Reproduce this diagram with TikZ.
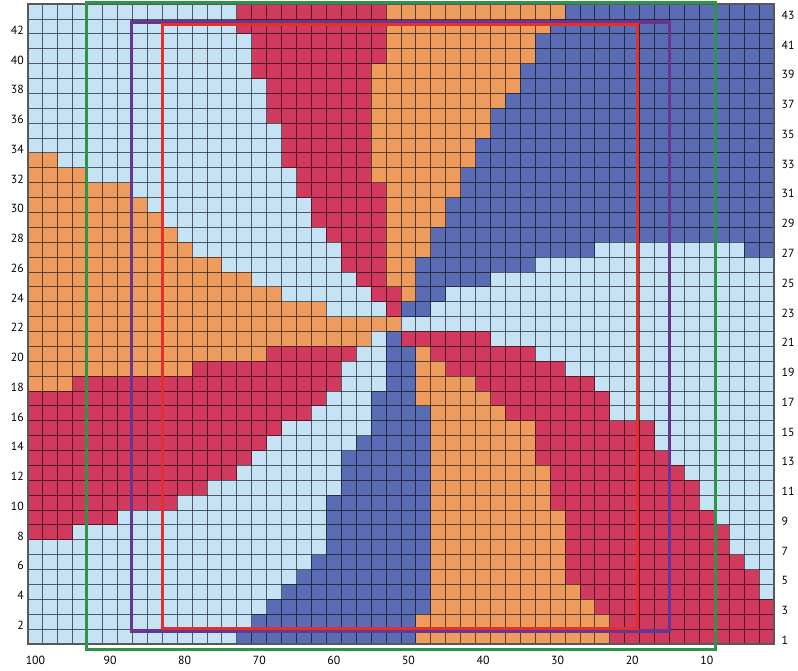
\documentclass[tikz,border=0pt]{standalone}
\usepackage{fontspec}
\setmainfont{PT Sans}
\usepackage{tikz}

\definecolor{paleblue}{HTML}{C6E3F5}
\definecolor{rosered}{HTML}{D13A5E}
\definecolor{peach}{HTML}{EE9B5E}
\definecolor{slateblue}{HTML}{5A6CB3}
\definecolor{bandgreen}{HTML}{2E9447}
\definecolor{bandpurple}{HTML}{673592}
\definecolor{bandred}{HTML}{E4302C}

\begin{document}
\begin{tikzpicture}[x=0.4cm, y=0.3989cm,
	every node/.style={font=\fontsize{9}{10}\selectfont, inner sep=0pt},
	gridline/.style={draw=black, draw opacity=0.6, line width=0.7pt},
	band/.style={line width=2.4pt}]
	\useasboundingbox (-1.877,-1.815) rectangle (51.61,43.28);
	\fill[paleblue] (0,0) rectangle (50,43);
	% row/first stitch/last stitch/colour (pale blue is the ground)
	\foreach \r/\a/\b/\c in {
		43/15/24/rosered, 43/25/36/peach, 43/37/50/slateblue,
		42/15/24/rosered, 42/25/35/peach, 42/36/50/slateblue,
		41/16/24/rosered, 41/25/34/peach, 41/35/50/slateblue,
		40/16/24/rosered, 40/25/34/peach, 40/35/50/slateblue,
		39/16/23/rosered, 39/24/33/peach, 39/34/50/slateblue,
		38/17/23/rosered, 38/24/33/peach, 38/34/50/slateblue,
		37/17/23/rosered, 37/24/32/peach, 37/33/50/slateblue,
		36/17/23/rosered, 36/24/31/peach, 36/32/50/slateblue,
		35/18/23/rosered, 35/24/31/peach, 35/32/50/slateblue,
		34/18/23/rosered, 34/24/30/peach, 34/31/50/slateblue,
		33/1/2/peach, 33/18/23/rosered, 33/24/30/peach, 33/31/50/slateblue,
		32/1/4/peach, 32/19/23/rosered, 32/24/29/peach, 32/30/50/slateblue,
		31/1/7/peach, 31/19/24/rosered, 31/25/29/peach, 31/30/50/slateblue,
		30/1/8/peach, 30/20/24/rosered, 30/25/28/peach, 30/29/50/slateblue,
		29/1/9/peach, 29/20/24/rosered, 29/25/28/peach, 29/29/50/slateblue,
		28/1/10/peach, 28/21/24/rosered, 28/25/27/peach, 28/28/50/slateblue,
		27/1/11/peach, 27/22/24/rosered, 27/25/27/peach, 27/28/38/slateblue, 27/49/50/slateblue,
		26/1/13/peach, 26/22/24/rosered, 26/25/26/peach, 26/27/34/slateblue,
		25/1/15/peach, 25/23/24/rosered, 25/25/26/peach, 25/27/31/slateblue,
		24/1/17/peach, 24/24/25/rosered, 24/26/26/peach, 24/27/28/slateblue,
		23/1/20/peach, 23/25/25/rosered, 23/26/27/slateblue,
		22/1/25/peach,
		21/1/23/peach, 21/25/25/slateblue, 21/26/31/rosered,
		20/1/16/peach, 20/17/22/rosered, 20/25/26/slateblue, 20/27/27/peach, 20/28/34/rosered,
		19/1/11/peach, 19/12/21/rosered, 19/25/26/slateblue, 19/27/28/peach, 19/29/36/rosered,
		18/1/3/peach, 18/4/21/rosered, 18/25/26/slateblue, 18/27/30/peach, 18/31/38/rosered,
		17/1/20/rosered, 17/24/26/slateblue, 17/27/31/peach, 17/32/39/rosered,
		16/1/19/rosered, 16/24/27/slateblue, 16/28/32/peach, 16/33/39/rosered,
		15/1/17/rosered, 15/24/27/slateblue, 15/28/34/peach, 15/35/42/rosered,
		14/1/16/rosered, 14/23/27/slateblue, 14/28/34/peach, 14/35/42/rosered,
		13/1/15/rosered, 13/22/27/slateblue, 13/28/34/peach, 13/35/43/rosered,
		12/1/14/rosered, 12/22/27/slateblue, 12/28/35/peach, 12/36/44/rosered,
		11/1/12/rosered, 11/22/27/slateblue, 11/28/35/peach, 11/36/45/rosered,
		10/1/10/rosered, 10/21/27/slateblue, 10/28/35/peach, 10/36/45/rosered,
		9/1/6/rosered, 9/21/27/slateblue, 9/28/36/peach, 9/37/46/rosered,
		8/1/3/rosered, 8/21/27/slateblue, 8/28/36/peach, 8/37/47/rosered,
		7/21/27/slateblue, 7/28/36/peach, 7/37/47/rosered,
		6/20/27/slateblue, 6/28/36/peach, 6/37/48/rosered,
		5/19/27/slateblue, 5/28/36/peach, 5/37/49/rosered,
		4/18/27/slateblue, 4/28/37/peach, 4/38/49/rosered,
		3/17/27/slateblue, 3/28/38/peach, 3/39/50/rosered,
		2/16/26/slateblue, 2/27/39/peach, 2/40/50/rosered,
		1/15/26/slateblue, 1/27/39/peach, 1/40/50/rosered} {
		\fill[fill=\c] (\a-1,\r-1) rectangle (\b,\r);
	}
	\foreach \i in {1,...,49} {\draw[gridline] (\i,0) -- (\i,43);}
	\foreach \j in {1,...,42} {\draw[gridline] (0,\j) -- (50,\j);}
	\draw[black!65, line width=1.4pt] (0,0) rectangle (50,43);
	% sizes
	\draw[band, bandgreen] (3.9,-0.38) rectangle (46.1,43.1);
	\draw[band, bandpurple] (6.95,0.87) rectangle (43.0,41.8);
	\draw[band, bandred] (9.03,1.05) rectangle (40.84,41.62);
	% row and stitch numbers
	\foreach \r in {2,4,...,42} {\node[anchor=east] (row\r) at (-0.27,\r-0.75) {\r};}
	\foreach \r in {1,3,...,43} {\node[anchor=west] (row\r) at (50.5,\r-0.75) {\r};}
	\foreach \n in {100,90,...,10} {\node (st\n) at ({(100-\n)/2+0.5},-1.08) {\n};}
\end{tikzpicture}
\end{document}
